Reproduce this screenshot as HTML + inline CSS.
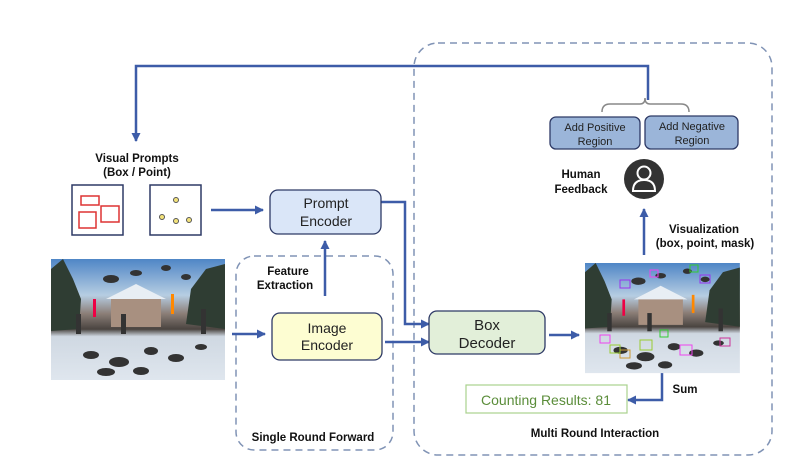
<!DOCTYPE html>
<html><head><meta charset="utf-8"><style>
body{margin:0;background:#fff;}
svg{display:block;font-family:"Liberation Sans",Arial,sans-serif;}
</style></head><body>
<svg width="803" height="468" viewBox="0 0 803 468" xmlns="http://www.w3.org/2000/svg">
<defs>
<marker id="ah" markerWidth="9" markerHeight="9" refX="8" refY="4.5" orient="auto" markerUnits="userSpaceOnUse">
<path d="M0,0 L9,4.5 L0,9 Z" fill="#3d5ca8"/></marker>
<linearGradient id="photo" x1="0" y1="0" x2="0" y2="1">
<stop offset="0" stop-color="#4f86c6"/><stop offset="0.3" stop-color="#b6cde2"/>
<stop offset="0.45" stop-color="#8c7f78"/><stop offset="0.58" stop-color="#4a4440"/>
<stop offset="0.64" stop-color="#cfd8e2"/><stop offset="1" stop-color="#dfe6ee"/></linearGradient>
<g id="scene">
<rect x="0" y="0" width="174" height="121" fill="url(#photo)"/>
<path d="M0,10 L12,0 L22,20 L30,40 L28,70 L0,72 Z" fill="#2f3d33"/>
<path d="M174,5 L155,10 L140,30 L135,65 L174,70 Z" fill="#2f3d33"/>
<rect x="60" y="38" width="50" height="30" fill="#a89080"/>
<path d="M55,40 L85,25 L115,40 Z" fill="#e8eef4"/>
<rect x="25" y="55" width="5" height="20" fill="#333"/><rect x="70" y="55" width="5" height="20" fill="#333"/><rect x="150" y="50" width="5" height="25" fill="#333"/>
<rect x="42" y="40" width="3" height="18" fill="#e04"/><rect x="120" y="35" width="3" height="20" fill="#f80"/>
<g fill="#333"><ellipse cx="40" cy="96" rx="8" ry="4"/><ellipse cx="68" cy="103" rx="10" ry="5"/><ellipse cx="100" cy="92" rx="7" ry="4"/><ellipse cx="125" cy="99" rx="8" ry="4"/><ellipse cx="150" cy="88" rx="6" ry="3"/><ellipse cx="55" cy="113" rx="9" ry="4"/><ellipse cx="90" cy="112" rx="8" ry="4"/><ellipse cx="60" cy="20" rx="8" ry="4"/><ellipse cx="85" cy="14" rx="6" ry="3"/><ellipse cx="115" cy="9" rx="5" ry="3"/><ellipse cx="135" cy="18" rx="5" ry="3"/></g>
</g>
</defs>
<g fill="none" stroke="#8093b5" stroke-width="1.5" stroke-dasharray="7,5">
<rect x="414" y="43" width="358" height="412" rx="24"/>
<rect x="236" y="256" width="157" height="194" rx="18"/>
</g>
<g stroke="#3d5ca8" stroke-width="2.5" fill="none">
<polyline points="648,100 648,66 136,66 136,141" marker-end="url(#ah)"/>
<line x1="211" y1="210" x2="263" y2="210" marker-end="url(#ah)"/>
<line x1="232" y1="334" x2="265" y2="334" marker-end="url(#ah)"/>
<line x1="325" y1="296" x2="325" y2="241" marker-end="url(#ah)"/>
<polyline points="381,202 405,202 405,324 429,324" marker-end="url(#ah)"/>
<line x1="385" y1="342" x2="429" y2="342" marker-end="url(#ah)"/>
<line x1="549" y1="335" x2="579" y2="335" marker-end="url(#ah)"/>
<line x1="644" y1="255" x2="644" y2="209" marker-end="url(#ah)"/>
<polyline points="662,373 662,400 628,400" marker-end="url(#ah)"/>
</g>
<path d="M602,112 Q602,104 610,104 L640,104 Q645,104 645,98 Q645,104 650,104 L681,104 Q689,104 689,112" fill="none" stroke="#888" stroke-width="1.5"/>
<g font-weight="bold" font-size="11.5" fill="#111" text-anchor="middle">
<text x="137" y="162">Visual Prompts</text><text x="137" y="176">(Box / Point)</text>
<text x="288" y="275">Feature</text><text x="285" y="289">Extraction</text>
<text x="581" y="178">Human</text><text x="581" y="193">Feedback</text>
<text x="704" y="233">Visualization</text><text x="705" y="247">(box, point, mask)</text>
<text x="685" y="393">Sum</text>
<text x="595" y="437">Multi Round Interaction</text>
<text x="313" y="441">Single Round Forward</text>
</g>
<rect x="72" y="185" width="51" height="50" fill="#fff" stroke="#2e3a66" stroke-width="1.5"/>
<g fill="none" stroke="#d33" stroke-width="1.5"><rect x="81" y="196" width="18" height="9"/><rect x="79" y="212" width="17" height="16"/><rect x="101" y="206" width="18" height="16"/></g>
<rect x="150" y="185" width="51" height="50" fill="#fff" stroke="#2e3a66" stroke-width="1.5"/>
<g fill="#f3e27a" stroke="#555" stroke-width="1"><circle cx="176" cy="200" r="2.5"/><circle cx="162" cy="217" r="2.5"/><circle cx="176" cy="221" r="2.5"/><circle cx="189" cy="220" r="2.5"/></g>
<use href="#scene" x="51" y="259"/>
<g transform="translate(585,263) scale(0.89,0.91)"><use href="#scene"/></g>
<g fill="none" stroke-width="1"><rect x="600" y="335" width="10" height="8" stroke="#e4e"/><rect x="640" y="340" width="12" height="10" stroke="#9c3"/><rect x="680" y="345" width="12" height="10" stroke="#e4e"/><rect x="620" y="350" width="10" height="8" stroke="#c93"/><rect x="660" y="330" width="8" height="7" stroke="#3c3"/><rect x="700" y="275" width="10" height="8" stroke="#93e"/><rect x="650" y="270" width="8" height="7" stroke="#e4e"/><rect x="620" y="280" width="10" height="8" stroke="#93e"/><rect x="720" y="338" width="10" height="8" stroke="#c39"/><rect x="610" y="345" width="10" height="8" stroke="#9c3"/><rect x="690" y="265" width="8" height="7" stroke="#3c3"/></g>
<g stroke="#2e3a66" stroke-width="1.3">
<rect x="270" y="190" width="111" height="44" rx="8" fill="#dae6f8"/>
<rect x="272" y="313" width="110" height="47" rx="8" fill="#fdfdd2"/>
<rect x="429" y="311" width="116" height="43" rx="8" fill="#e2efd9"/>
<rect x="550" y="117" width="90" height="32" rx="6" fill="#9bb5d9"/>
<rect x="645" y="116" width="93" height="33" rx="6" fill="#9bb5d9"/>
</g>
<g font-size="14" fill="#222" text-anchor="middle">
<text x="326" y="208">Prompt</text><text x="326" y="226">Encoder</text>
<text x="327" y="333">Image</text><text x="327" y="350">Encoder</text>
<text x="487" y="330" font-size="15">Box</text><text x="487" y="348" font-size="15">Decoder</text>
</g>
<g font-size="11" fill="#222" text-anchor="middle">
<text x="595" y="131">Add Positive</text><text x="595" y="145">Region</text>
<text x="692" y="130">Add Negative</text><text x="692" y="144">Region</text>
</g>
<circle cx="644" cy="179" r="20" fill="#333"/>
<circle cx="644" cy="173" r="6.5" fill="none" stroke="#fff" stroke-width="2"/>
<path d="M633,191 Q633,180 644,180 Q655,180 655,191 Z" fill="none" stroke="#fff" stroke-width="2"/>
<rect x="466" y="385" width="161" height="28" fill="#fff" stroke="#a9d18e" stroke-width="1.2"/>
<text x="546" y="405" font-size="14" fill="#5b8d3a" text-anchor="middle">Counting Results: 81</text>
</svg>
</body></html>
